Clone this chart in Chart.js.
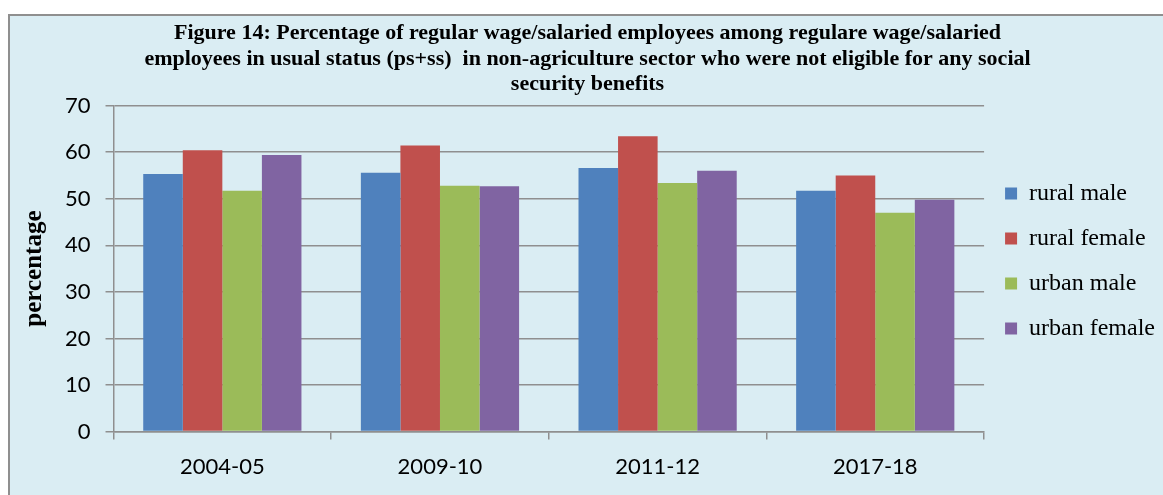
<!DOCTYPE html>
<html>
<head>
<meta charset="utf-8">
<script src="https://cdn.jsdelivr.net/npm/chart.js@4.4.1/dist/chart.umd.min.js"></script>
<style>
html, body { margin: 0; padding: 0; background: #fff; overflow: hidden; }
#box {
    position: absolute; left: 8px; top: 14px;
    width: 1170px; height: 490px;
    background: #DAEDF3;
    border-left: 2px solid #8f8f8f; border-top: 2px solid #8f8f8f;
}
</style>
</head>
<body>
<div id="box"><canvas id="chart" width="1155" height="490"></canvas></div>
<script>
//data
const years = ['2004-05', '2009-10', '2011-12', '2017-18'];
const ruralMale = [55.3, 55.6, 56.6, 51.7];
const ruralFemale = [60.4, 61.4, 63.4, 55.0];
const urbanMale = [51.7, 52.8, 53.4, 47.0];
const urbanFemale = [59.4, 52.7, 56.0, 49.8];
const yTicks = [0, 10, 20, 30, 40, 50, 60, 70];

const gridColor = '#8f8f8f';
const tickFont = { family: 'Lato', size: 22 };

const ctx = document.getElementById('chart').getContext('2d');
const chart = new Chart(ctx, {
    type: 'bar',
    data: {
        labels: years,
        datasets: [
            { label: 'rural male', data: ruralMale, backgroundColor: '#4F81BD' },
            { label: 'rural female', data: ruralFemale, backgroundColor: '#C0504D' },
            { label: 'urban male', data: urbanMale, backgroundColor: '#9BBB59' },
            { label: 'urban female', data: urbanFemale, backgroundColor: '#8064A2' }
        ]
    },
    options: {
        responsive: false,
        animation: false,
        layout: { padding: { left: 0, right: 0, top: 0, bottom: 12 } },
        datasets: {
            bar: { barPercentage: 1, categoryPercentage: 0.727 }
        },
        scales: {
            x: {
                grid: { drawOnChartArea: false, drawTicks: true, tickLength: 8, color: gridColor, lineWidth: 1.5 },
                border: { color: gridColor, width: 1.5 },
                ticks: { font: tickFont, color: '#000', padding: 14 }
            },
            y: {
                min: 0,
                max: 70,
                afterBuildTicks: (axis) => { axis.ticks = yTicks.map(v => ({ value: v })); },
                grid: { color: gridColor, lineWidth: 1.5, tickLength: 8 },
                border: { color: gridColor, width: 1.5 },
                ticks: { font: tickFont, color: '#000', padding: 15 },
                title: {
                    display: true,
                    text: 'percentage',
                    color: '#000',
                    font: { family: 'Liberation Serif', size: 25, weight: 'bold' },
                    padding: { top: 10, bottom: 0 }
                }
            }
        },
        plugins: {
            title: {
                display: true,
                text: [
                    'Figure 14: Percentage of regular wage/salaried employees among regulare wage/salaried',
                    'employees in usual status (ps+ss)  in non-agriculture sector who were not eligible for any social',
                    'security benefits'
                ],
                color: '#000',
                font: { family: 'Liberation Serif', size: 22, weight: 'bold', lineHeight: 1.16 },
                padding: { top: 5, bottom: 8 }
            },
            legend: {
                position: 'right',
                title: { display: true, text: '', font: { size: 10, lineHeight: 1 }, padding: { top: 1, bottom: 1 } },
                labels: {
                    boxWidth: 12,
                    boxHeight: 12,
                    padding: 21,
                    color: '#000',
                    font: { family: 'Liberation Serif', size: 24 }
                }
            },
            tooltip: { enabled: false }
        }
    }
});
</script>
</body>
</html>
